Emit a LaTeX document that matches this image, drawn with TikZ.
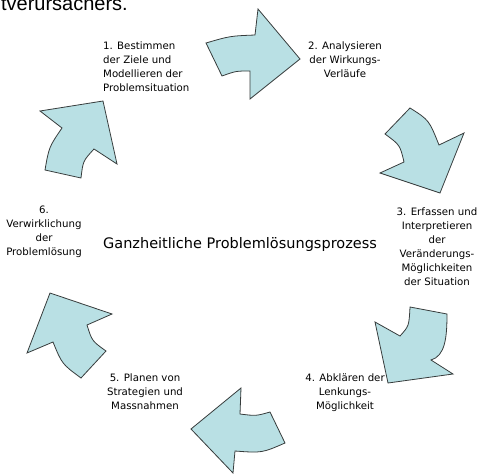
\documentclass[tikz,border=0pt]{standalone}
\usepackage{fontspec}
\setmainfont{DejaVu Sans}
\newfontfamily\cutfont{Liberation Sans}
\usepackage{tikz}
\usetikzlibrary{positioning}
\definecolor{arrowfill}{RGB}{185,224,228}
\definecolor{arrowline}{RGB}{55,60,60}
\tikzset{
	cyclearrow/.style={draw=arrowline, fill=arrowfill, line width=0.8pt, line join=miter},
	steplabel/.style={font=\fontsize{10.2}{14}\selectfont, inner sep=0pt, anchor=north, align=center},
	titlelabel/.style={font=\fontsize{14.5}{18}\selectfont, inner sep=0pt, anchor=base},
}

\begin{document}
\begin{tikzpicture}[x=1pt, y=-1pt]
	\useasboundingbox (0,0) rectangle (484,474);
	\node[font=\cutfont\fontsize{20}{24}\selectfont, inner sep=0pt, anchor=base east] (cut) at (128,10) {tverursachers.};
	% Pfeile im Kreis
	\draw[cyclearrow] (206,43) .. controls (230,36) .. (255,35) -- (258,9) -- (300,59) -- (250,99) -- (250,71) .. controls (236,71) .. (222,76) -- cycle;
	\draw[cyclearrow] (410,108) .. controls (429,120) .. (439,145) -- (464,133) -- (440,193) -- (380,173) -- (404,162) .. controls (400,145) .. (385,134) -- cycle;
	\draw[cyclearrow] (447,314) .. controls (447,338) and (445,356) .. (431,360) -- (453,374) -- (388,383) -- (375,322) -- (400,336) .. controls (409,326) .. (410,307) -- cycle;
	\draw[cyclearrow] (285,443) .. controls (262,453) .. (235,451) -- (233,473) -- (191,429) -- (241,388) -- (240,414) .. controls (256,416) .. (270,412) -- cycle;
	\draw[cyclearrow] (81,378) .. controls (62,364) .. (53,342) -- (27,353) -- (50,293) -- (112,314) -- (87,325) .. controls (92,341) .. (106,351) -- cycle;
	\draw[cyclearrow] (45,170) .. controls (49,147) .. (62,128) -- (40,111) -- (103,101) -- (117,164) -- (94,149) .. controls (83,161) .. (81,178) -- cycle;
	% Texte
	\node[titlelabel] (title) at (240,248) {Ganzheitliche Problemlösungsprozess};
	\node[steplabel, anchor=north west, align=left] (s1) at (103,41.3) {1. Bestimmen\\der Ziele und\\Modellieren der\\Problemsituation};
	\node[steplabel] (s2) at (345,41.3) {2. Analysieren\\der Wirkungs-\\Verläufe};
	\node[steplabel] (s3) at (437,207.3) {3. Erfassen und\\Interpretieren\\der\\Veränderungs-\\Möglichkeiten\\der Situation};
	\node[steplabel] (s4) at (345,373.3) {4. Abklären der\\Lenkungs-\\Möglichkeit};
	\node[steplabel] (s5) at (145,373.3) {5. Planen von\\Strategien und\\Massnahmen};
	\node[steplabel] (s6) at (44,205.3) {6.\\Verwirklichung\\der\\Problemlösung};
\end{tikzpicture}
\end{document}
